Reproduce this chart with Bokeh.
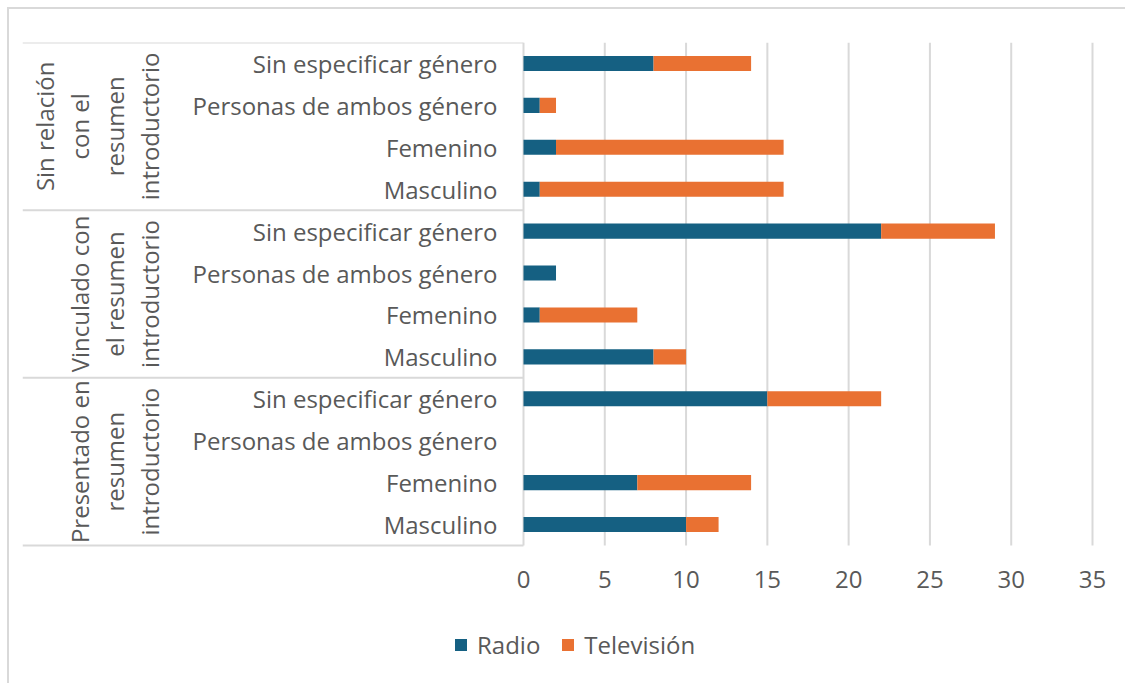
import math
from bokeh.plotting import figure
from bokeh.models import Range1d, FixedTicker, Legend, LegendItem, ColumnDataSource
from bokeh.embed import file_html
from bokeh.resources import INLINE
from bokeh.core.properties import value

# ---- data ----
group_lines = [
    ["Sin relación", "con el", "resumen", "introductorio"],
    ["Vinculado con", "el resumen", "introductorio"],
    ["Presentado en", "resumen", "introductorio"],
]
categories = ["Sin especificar género", "Personas de ambos género", "Femenino", "Masculino"]
radio = [8, 1, 2, 1, 22, 2, 1, 8, 15, 0, 7, 10]
television = [6, 1, 14, 15, 7, 0, 6, 2, 7, 0, 7, 2]
x_ticks = [0, 5, 10, 15, 20, 25, 30, 35]
series_names = ["Radio", "Televisión"]
colors = ["#156082", "#E97132"]

FONT = "Open Sans"
TXT = "#595959"
GRID = "#d9d9d9"
FS = "24px"

# layout (canvas pixels)
frame_left, frame_top = 13, 33
axis_right = 1083       # canvas x of the last tick (35)
frame_right = 1112
plot_bottom = 536       # canvas y of the category area's bottom
CANVAS_H = 674
FW = frame_right - frame_left
FH = CANVAS_H - frame_top
zero_px = 514           # canvas x of value 0
xmax = x_ticks[-1]
px_per_unit = (axis_right - zero_px) / xmax
x_start = -(zero_px - frame_left) / px_per_unit
x_end = xmax + (frame_right - axis_right) / px_per_unit

def px_to_x(px):
    return (px - zero_px) / px_per_unit

n_groups = len(group_lines)
n_cat = len(categories)
n_rows = n_groups * n_cat
px_per_row = (plot_bottom - frame_top) / n_rows
y_start = -(CANVAS_H - plot_bottom) / px_per_row

labels = [c for g in range(n_groups) for c in categories]
ys = [n_rows - i - 0.5 for i in range(n_rows)]
tv_end = [r + t for r, t in zip(radio, television)]

src = ColumnDataSource(dict(y=ys, radio=radio, tv_end=tv_end, label=labels,
                            zero=[0] * n_rows))

p = figure(frame_width=FW, frame_height=FH, output_backend="svg", toolbar_location=None,
           x_range=Range1d(x_start, x_end), y_range=Range1d(y_start, n_rows),
           min_border_left=frame_left, min_border_right=4,
           min_border_top=frame_top, min_border_bottom=0,
           y_axis_location=None)
p.outline_line_color = None
p.background_fill_color = "white"
p.border_fill_color = "white"
p.styles = {"border-left": "2px solid #d9d9d9", "border-top": "2px solid #d9d9d9",
            "margin-left": "7px", "margin-top": "7px"}

# x axis, drawn at the bottom of the category area
ax = p.xaxis[0]
ax.fixed_location = 0
ax.ticker = FixedTicker(ticks=x_ticks)
ax.axis_line_color = None
ax.major_tick_line_color = None
ax.minor_tick_line_color = None
ax.major_label_text_font = FONT
ax.major_label_text_font_size = FS
ax.major_label_text_color = TXT
ax.major_label_standoff = 19

p.xgrid.visible = False
p.ygrid.visible = False

# vertical gridlines at the ticks, spanning only the category area
p.segment(x0=x_ticks, x1=x_ticks, y0=[0] * len(x_ticks), y1=[n_rows] * len(x_ticks),
          line_color=GRID, line_width=2)

# category separators
bounds = [g * n_cat for g in range(n_groups + 1)]
p.segment(x0=[x_start] * len(bounds), x1=[0] * len(bounds), y0=bounds, y1=bounds,
          line_color=GRID, line_width=2)

# bars
bar_h = 0.36
r1 = p.hbar(y="y", left="zero", right="radio", height=bar_h, source=src,
            fill_color=colors[0], line_color=None)
r2 = p.hbar(y="y", left="radio", right="tv_end", height=bar_h, source=src,
            fill_color=colors[1], line_color=None)

# category labels
p.text(x=px_to_x(zero_px - 26), y="y", text="label", source=src,
       text_align="right", text_baseline="middle",
       text_font=value(FONT), text_font_size=FS, text_color=TXT)

# group labels (rotated, one glyph per line)
gx, gy, gt = [], [], []
line_step = 35
last_line_px = 140
for g, lines in enumerate(group_lines):
    center_y = n_rows - (g * n_cat + n_cat / 2)
    n = len(lines)
    for k, t in enumerate(lines):
        gx.append(px_to_x(last_line_px - line_step * (n - 1 - k)))
        gy.append(center_y)
        gt.append(t)
p.text(x=gx, y=gy, text=gt, angle=math.pi / 2,
       text_align="center", text_baseline="middle",
       text_font=value(FONT), text_font_size=FS, text_color=TXT)

# legend (screen offset from frame's bottom-left)
legend = Legend(items=[LegendItem(label=series_names[0], renderers=[r1]),
                       LegendItem(label=series_names[1], renderers=[r2])],
                orientation="horizontal", location=(431, 22))
legend.label_text_font = FONT
legend.label_text_font_size = FS
legend.label_text_color = TXT
legend.glyph_width = 15
legend.glyph_height = 15
legend.spacing = 20
legend.label_standoff = 9
legend.padding = 4
legend.border_line_color = None
legend.background_fill_alpha = 0
legend.margin = 0
p.add_layout(legend, "center")

open("out.html", "w").write(file_html(p, INLINE))
